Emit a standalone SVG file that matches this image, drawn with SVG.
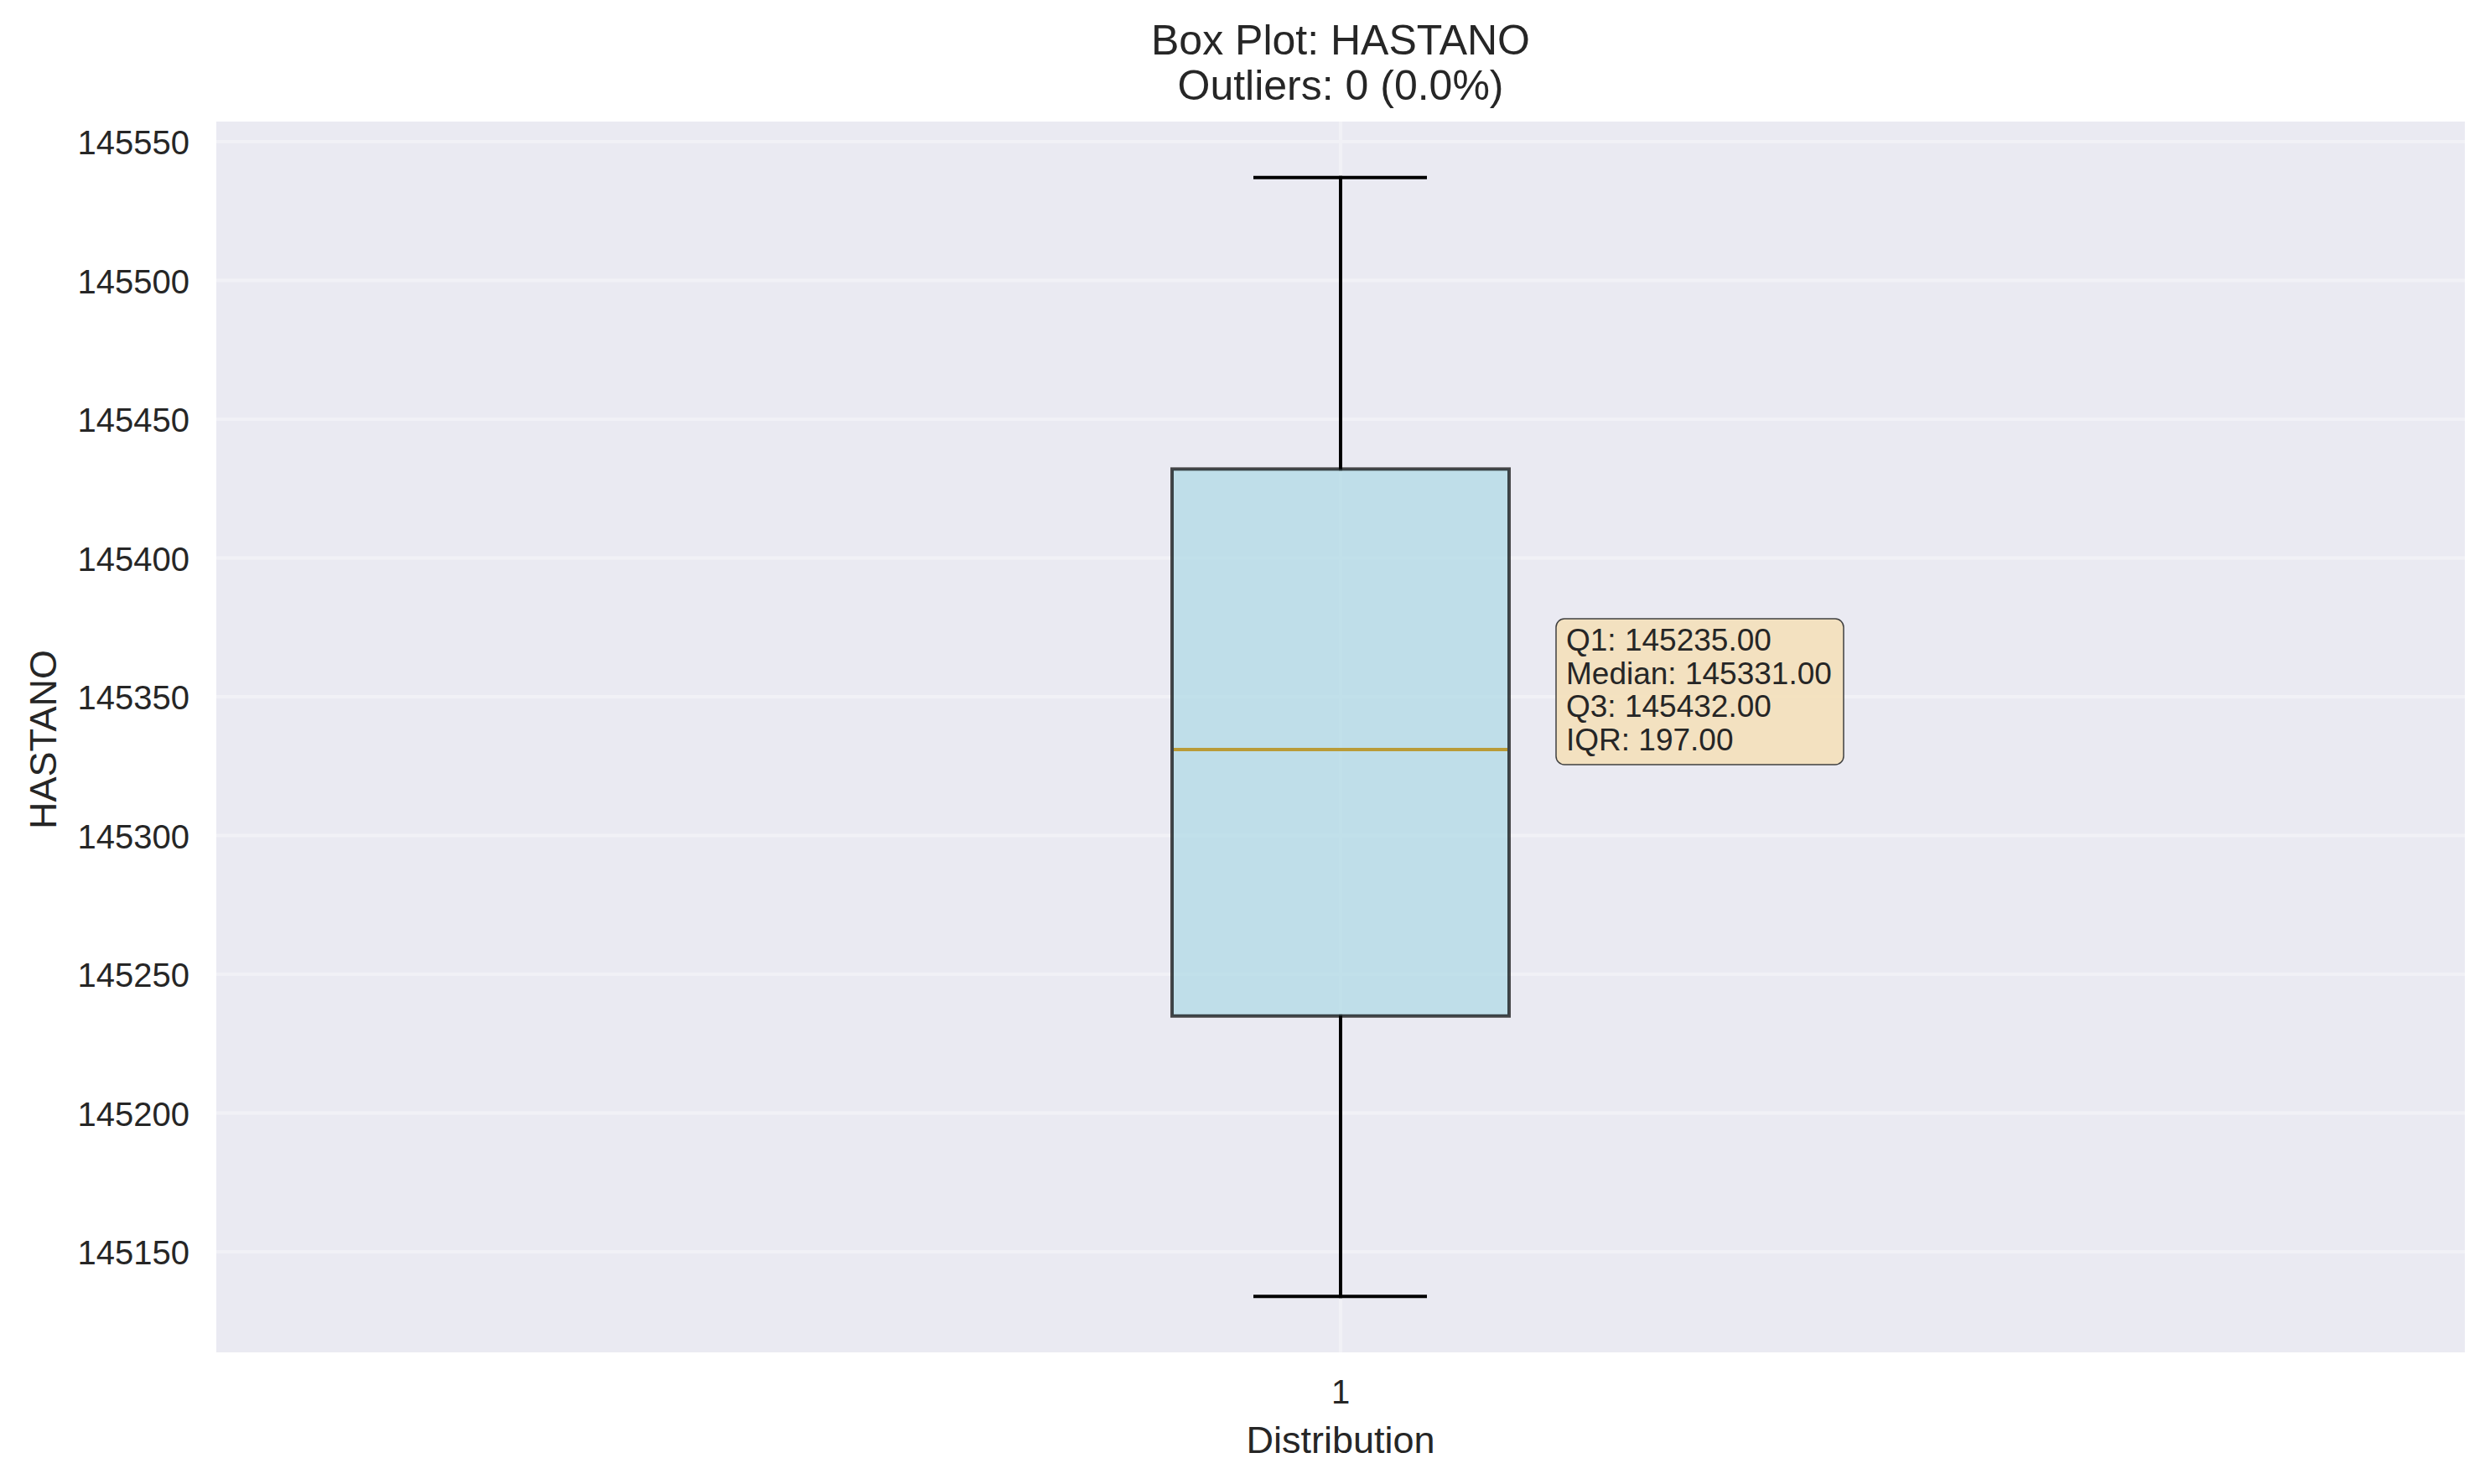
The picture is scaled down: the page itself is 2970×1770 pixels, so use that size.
<svg xmlns="http://www.w3.org/2000/svg" width="2970" height="1770" viewBox="0 0 2970 1770">
<style>
text{font-family:"Liberation Sans",Arial,sans-serif;fill:#262626}
.tick{font-size:40px;text-anchor:end}
.grid{stroke:#f1f1f6;stroke-width:4}
.whisk{stroke:#000;stroke-width:4;stroke-linecap:square}
.annot{font-size:37px}
</style>
<rect x="0" y="0" width="2970" height="1770" fill="#ffffff"/>
<g id="axes">
<rect x="258" y="145" width="2682" height="1468" fill="#eaeaf2"/>
<g id="gridlines">
<line class="grid" x1="258" y1="169" x2="2940" y2="169"/>
<line class="grid" x1="258" y1="334.5" x2="2940" y2="334.5"/>
<line class="grid" x1="258" y1="500" x2="2940" y2="500"/>
<line class="grid" x1="258" y1="665.5" x2="2940" y2="665.5"/>
<line class="grid" x1="258" y1="831" x2="2940" y2="831"/>
<line class="grid" x1="258" y1="996.5" x2="2940" y2="996.5"/>
<line class="grid" x1="258" y1="1162" x2="2940" y2="1162"/>
<line class="grid" x1="258" y1="1327.5" x2="2940" y2="1327.5"/>
<line class="grid" x1="258" y1="1493" x2="2940" y2="1493"/>
<line class="grid" x1="1599" y1="145" x2="1599" y2="1613"/>
</g>
<g id="yticks">
<text class="tick" x="226" y="184">145550</text>
<text class="tick" x="226" y="349.5">145500</text>
<text class="tick" x="226" y="515">145450</text>
<text class="tick" x="226" y="680.5">145400</text>
<text class="tick" x="226" y="846">145350</text>
<text class="tick" x="226" y="1011.5">145300</text>
<text class="tick" x="226" y="1177">145250</text>
<text class="tick" x="226" y="1342.5">145200</text>
<text class="tick" x="226" y="1508">145150</text>
</g>
<text x="1599" y="1674" font-size="40" text-anchor="middle">1</text>
</g>
<g id="connectors">
<line class="whisk" x1="1599" y1="559.4" x2="1599" y2="211.7"/>
<line class="whisk" x1="1599" y1="1211.8" x2="1599" y2="1546.3"/>
<line class="whisk" x1="1497" y1="211.7" x2="1700" y2="211.7"/>
<line class="whisk" x1="1497" y1="1546.3" x2="1700" y2="1546.3"/>
</g>
<g id="box">
<rect x="1398" y="559.4" width="402" height="652.4" fill="#add8e6" fill-opacity="0.7" stroke="#000" stroke-opacity="0.7" stroke-width="4"/>
<line x1="1400" y1="893.9" x2="1798" y2="893.9" stroke="#b99b37" stroke-width="4"/>
</g>
<g id="annotation">
<rect x="1856" y="738" width="343" height="174" rx="10" ry="10" fill="#f5deb3" fill-opacity="0.8" stroke="#404040" stroke-width="1.5"/>
<text class="annot" x="1868" y="776">Q1: 145235.00</text>
<text class="annot" x="1868" y="815.7">Median: 145331.00</text>
<text class="annot" x="1868" y="855.4">Q3: 145432.00</text>
<text class="annot" x="1868" y="895">IQR: 197.00</text>
</g>
<g id="labels">
<text x="1599" y="65" font-size="50" text-anchor="middle">Box Plot: HASTANO</text>
<text x="1599" y="119" font-size="50" text-anchor="middle">Outliers: 0 (0.0%)</text>
<text x="1599" y="1733" font-size="45" text-anchor="middle">Distribution</text>
<text transform="translate(67,882) rotate(-90)" font-size="45" text-anchor="middle">HASTANO</text>
</g>
</svg>
